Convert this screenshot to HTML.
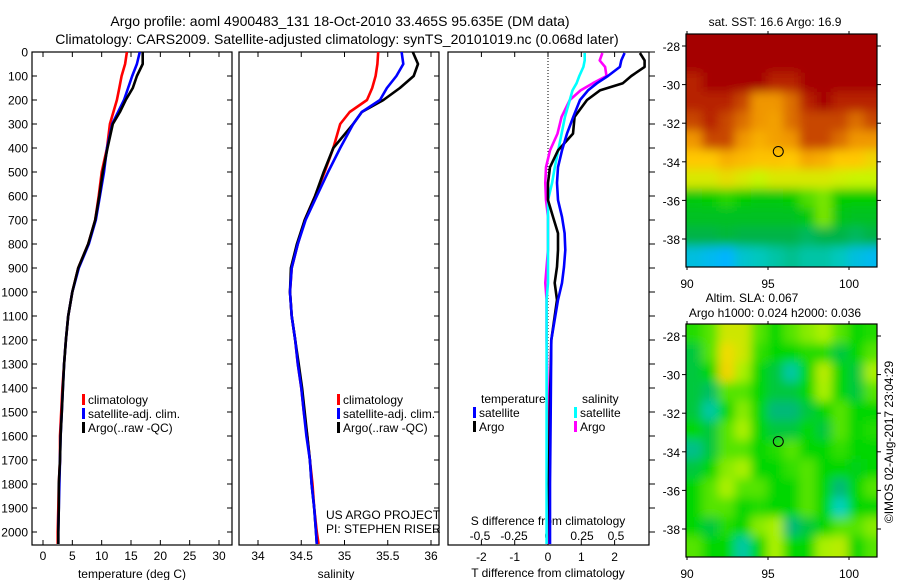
<!DOCTYPE html>
<html><head><meta charset="utf-8"><style>
body{margin:0;background:#fff;}
svg{display:block;font-family:"Liberation Sans",sans-serif;}
</style></head><body>
<svg id="c" width="900" height="580" viewBox="0 0 900 580" xmlns="http://www.w3.org/2000/svg">
<defs>
<clipPath id="cp1"><rect x="32" y="52" width="200" height="493"/></clipPath>
<clipPath id="cp2"><rect x="239" y="52" width="200" height="493"/></clipPath>
<clipPath id="cp3"><rect x="448" y="52" width="201" height="493"/></clipPath>
<clipPath id="cm1"><rect x="686" y="34" width="191" height="233"/></clipPath>
<clipPath id="cm2"><rect x="686" y="324" width="191" height="233"/></clipPath>
<filter id="bl" x="-10%" y="-10%" width="120%" height="120%"><feGaussianBlur stdDeviation="5"/></filter>
</defs>
<g id="root"></g>
</svg>
<script>
// ---- data ----
const depthsT = [0,50,100,150,200,250,300,400,500,600,700,800,900,1000,1100,1200,1300,1400,1500,1600,1700,1800,1900,2000,2050];
const tempClim = [14.3,14.0,13.4,13.0,12.6,12.0,11.4,10.9,10.0,9.5,8.9,7.7,6.0,5.0,4.3,3.9,3.6,3.3,3.1,2.9,2.9,2.7,2.6,2.5,2.5];
const tempSat  = [16.5,16.0,15.2,14.5,13.8,12.8,11.8,10.9,10.4,9.7,9.0,7.8,6.1,5.0,4.3,3.9,3.6,3.4,3.2,3.0,2.9,2.8,2.7,2.6,2.6];
const tempArgo = [17.0,17.0,16.0,15.3,14.1,13.1,11.9,11.0,10.2,9.6,8.9,7.7,6.0,5.0,4.3,3.9,3.6,3.4,3.2,3.0,2.9,2.7,2.7,2.6,2.6];
const depthsS = [0,50,100,150,200,250,300,400,500,600,700,800,900,1000,1100,1200,1300,1400,1500,1600,1700,1800,1900,2000,2050];
const salClim = [35.39,35.38,35.36,35.32,35.26,35.06,34.95,34.87,34.77,34.66,34.54,34.46,34.39,34.37,34.39,34.43,34.46,34.5,34.53,34.57,34.6,34.63,34.65,34.68,34.70];
const salSat  = [35.66,35.68,35.6,35.49,35.41,35.2,35.1,34.95,34.81,34.68,34.55,34.46,34.39,34.37,34.39,34.43,34.46,34.5,34.53,34.56,34.6,34.62,34.65,34.67,34.68];
const salArgo = [35.79,35.85,35.8,35.64,35.45,35.2,35.1,34.87,34.76,34.66,34.54,34.45,34.38,34.37,34.39,34.43,34.47,34.51,34.54,34.57,34.6,34.62,34.65,34.67,34.68];
const depthsD = [4,35,62,100,130,160,200,270,340,410,480,545,617,687,755,825,895,962,1033,1200,1500,1800,2050];
const dTArgo = [2.76,2.9,2.9,2.5,2.25,1.56,1.17,0.8,0.75,0.3,0.06,0.0,0.0,0.15,0.3,0.3,0.27,0.2,0.27,0.1,0.05,0.03,0.05];
const dTSat  = [2.3,2.2,2.16,1.8,1.47,1.2,0.96,0.76,0.57,0.42,0.3,0.27,0.3,0.42,0.5,0.52,0.48,0.42,0.3,0.1,0.08,0.06,0.06];
const dSSat  = [0.27,0.27,0.26,0.23,0.21,0.18,0.16,0.125,0.1,0.075,0.05,0.03,0.0,0.0,0.0,0.0,0.0,0.0,-0.01,-0.01,-0.01,-0.01,-0.01];
const dSArgo = [0.4,0.38,0.42,0.43,0.33,0.24,0.16,0.1,0.07,0.015,-0.015,-0.02,-0.015,0.0,0.0,0.0,-0.01,-0.02,-0.01,-0.01,0.0,0.0,0.0];
const depthTicks = [0,100,200,300,400,500,600,700,800,900,1000,1100,1200,1300,1400,1500,1600,1700,1800,1900,2000];
const tempTicks = [0,5,10,15,20,25,30];
const salTicks = [34,34.5,35,35.5,36];
const dTTicks = [-2,-1,0,1,2];
const dSTicks = [-0.5,-0.25,0,0.25,0.5];
const latTicks = [-28,-30,-32,-34,-36,-38];
const lonTicks = [90,95,100];
const sstGrid = [
[20,20,20,20,20,20,20,20,20,20,20,20],
[19.5,20,20,20,20,20,20,20,20,19.5,20,20],
[19,19.5,20,20,19.5,19,19,19.5,20,19.5,19.5,20],
[19,19,19,18.5,17.5,17.5,18,19,19.5,19,19,19],
[18.5,19,18.5,18,17.5,17.3,18,18.5,18.5,18.5,18,18.5],
[17.5,18.5,18.5,17.5,17,17.3,17.5,18.5,18.5,18,17.5,17.5],
[16.5,16.5,17,16.8,16.6,16.6,16.5,17.2,17,16.5,16.5,16.3],
[16,16,16.2,16,15.8,16,16,16,16,15.9,15.8,15.8],
[15.2,15.3,15.4,15.3,15.2,15.2,15.3,15.5,15.6,15.3,15.3,15.3],
[15,15,15,15,15,15,15,15.2,15.6,15.1,15,15],
[14.7,14.7,14.8,14.7,14.7,14.7,14.7,14.6,14.7,14.7,14.6,14.7],
[14,13.9,13.8,14.1,14.2,14.3,14.4,14.3,14.3,14.2,14,13.9]];
const slaGrid = [
[0.02,0.05,0.15,0.15,0.05,0,0.05,0.08,0.1,0.05,0,0.02],
[-0.05,0.05,0.2,0.15,0.03,0,0,0.02,0.02,-0.05,0,0.05],
[-0.05,0,0.22,0.1,0,-0.05,-0.15,0,0.12,0,-0.05,0.1],
[-0.05,-0.08,0.05,0.05,0,-0.05,-0.05,0,0.1,0,-0.05,0.05],
[-0.05,-0.15,0,0.08,0,-0.1,-0.1,-0.05,0,0.05,0,0],
[0,-0.05,0.05,0.1,0,-0.05,-0.05,0,-0.05,0.05,0,0.02],
[-0.12,-0.05,0.05,0.05,0,0.02,0.05,0,0,0.03,0,0],
[-0.05,0,0.08,0.1,0,0,0.03,0.05,0,0,-0.02,0],
[0,0.05,0.1,0.05,0.05,0,0,0.05,0,-0.1,0,0.05],
[0,0.05,0.05,0,0.02,0,0,0.05,0,-0.18,0,0],
[0,-0.05,0.02,0,0.08,0.1,-0.1,-0.05,0,0.05,0.05,0.08],
[0.05,0,0,-0.15,0,0.1,0,0,0.1,0.12,0,0.05]];
const argoLon = 95.635, argoLat = -33.465;

// ---- helpers ----
const NS="http://www.w3.org/2000/svg";
const root=document.getElementById('root');
function el(tag,attrs,parent,txt){const e=document.createElementNS(NS,tag);for(const k in attrs)e.setAttribute(k,attrs[k]);if(txt!==undefined)e.textContent=txt;(parent||root).appendChild(e);return e;}
const yD = d => 52 + d*0.24;
const xT = t => 43 + t*5.867;
const xS = s => 258 + (s-34)*86.5;
const xDT = v => 548 + v*33.3;
const xDS = v => 548 + v*136;
const mx = lon => 687 + (lon-90)*16.2;
const myA = lat => 46 + (-28-lat)*19.3;
const myB = lat => 336 + (-28-lat)*19.3;

function text(x,y,s,anchor,size,name){const t=el('text',{x:x,y:y,'font-size':size||12,'text-anchor':anchor||'start',fill:'#000'},root,s);

return t;}

function series(xs,ds,xf,color,clip,name,w){
  const pts=xs.map((v,i)=>xf(v).toFixed(1)+','+yD(ds[i]).toFixed(1)).join(' ');
  const p=el('polyline',{points:pts,fill:'none',stroke:color,'stroke-width':w||2.6,'clip-path':'url(#'+clip+')','stroke-linejoin':'round'});
  
  
}

// titles
text(340,26,'Argo profile: aoml 4900483_131 18-Oct-2010 33.465S 95.635E (DM data)','middle',14,'chart-title');
text(337,44,'Climatology: CARS2009. Satellite-adjusted climatology: synTS_20101019.nc (0.068d later)','middle',14,'chart-subtitle');

// panels frames
function frame(x,w,name){const r=el('rect',{x:x,y:52,width:w,height:493,fill:'none',stroke:'#000','stroke-width':1.2});

}
frame(32,200,'temperature-panel');frame(239,200,'salinity-panel');frame(448,201,'difference-panel');

// depth ticks
depthTicks.forEach(d=>{const y=yD(d);
  const lab=text(28,y+4.5,String(d),'end',12,'depth-tick-label');
  el('line',{x1:32,y1:y,x2:37,y2:y,stroke:'#000'});
  el('line',{x1:227,y1:y,x2:232,y2:y,stroke:'#000'});
  el('line',{x1:434,y1:y,x2:439,y2:y,stroke:'#000'});
  el('line',{x1:649,y1:y,x2:655,y2:y,stroke:'#000'});
});
// x ticks
tempTicks.forEach(t=>{const x=xT(t);el('line',{x1:x,y1:545,x2:x,y2:540,stroke:'#000'});el('line',{x1:x,y1:52,x2:x,y2:57,stroke:'#000'});text(x,560,String(t),'middle',12,'temperature-tick-label');});
text(132,578,'temperature (deg C)','middle',12,'temperature-axis-title');
salTicks.forEach(s=>{const x=xS(s);el('line',{x1:x,y1:545,x2:x,y2:540,stroke:'#000'});el('line',{x1:x,y1:52,x2:x,y2:57,stroke:'#000'});text(x,560,String(s),'middle',12,'salinity-tick-label');});
text(336,578,'salinity','middle',12,'salinity-axis-title');
dTTicks.forEach(v=>{const x=xDT(v);el('line',{x1:x,y1:545,x2:x,y2:540,stroke:'#000'});el('line',{x1:x,y1:52,x2:x,y2:57,stroke:'#000'});text(x,561,String(v),'middle',12,'t-diff-tick-label');});
text(548,577,'T difference from climatology','middle',12,'t-diff-axis-title');
dSTicks.forEach(v=>{text(xDS(v),540,String(v),'middle',12,'s-diff-tick-label');});
text(548,525,'S difference from climatology','middle',12,'s-diff-axis-title');
el('line',{x1:548,y1:52,x2:548,y2:545,stroke:'#000','stroke-dasharray':'1,2','stroke-width':1});

// series
series(tempClim,depthsT,xT,'#ff0000','cp1','temp-climatology-line');
series(tempSat,depthsT,xT,'#0000ff','cp1','temp-satellite-line');
series(tempArgo,depthsT,xT,'#000000','cp1','temp-argo-line');
series(salClim,depthsS,xS,'#ff0000','cp2','sal-climatology-line');
series(salArgo,depthsS,xS,'#000000','cp2','sal-argo-line');
series(salSat,depthsS,xS,'#0000ff','cp2','sal-satellite-line');
series(dSArgo,depthsD,xDS,'#ff00ff','cp3','s-diff-argo-line');
series(dSSat,depthsD,xDS,'#00ffff','cp3','s-diff-satellite-line');
series(dTArgo,depthsD,xDT,'#000000','cp3','t-diff-argo-line');
series(dTSat,depthsD,xDT,'#0000ff','cp3','t-diff-satellite-line');

// legends
function legend(x,y,color,label,name){const r=el('rect',{x:x,y:y-10,width:3,height:11,fill:color});


text(x+6,y,label,'start',12,name);}
legend(82,404,'#ff0000','climatology','legend-climatology');
legend(82,418,'#0000ff','satellite-adj. clim.','legend-satellite-adj');
legend(82,432,'#000000','Argo(..raw -QC)','legend-argo');
legend(337,404,'#ff0000','climatology','legend-sal-climatology');
legend(337,418,'#0000ff','satellite-adj. clim.','legend-sal-satellite-adj');
legend(337,432,'#000000','Argo(..raw -QC)','legend-sal-argo');
text(481,403,'temperature','start',12,'legend-temperature-heading');
text(582,403,'salinity','start',12,'legend-salinity-heading');
legend(473,417,'#0000ff','satellite','legend-t-satellite');
legend(473,431,'#000000','Argo','legend-t-argo');
legend(574,417,'#00ffff','satellite','legend-s-satellite');
legend(574,431,'#ff00ff','Argo','legend-s-argo');
text(326,519,'US ARGO PROJECT','start',12,'project-label');
text(326,533,'PI: STEPHEN RISER','start',12,'pi-label');

// colormaps
function interp(stops,v){if(v<=stops[0][0])return stops[0][1];for(let i=1;i<stops.length;i++){if(v<=stops[i][0]){const a=stops[i-1],b=stops[i],f=(v-a[0])/(b[0]-a[0]);return 'rgb('+a[1].map((c,k)=>Math.round(c+(b[1][k]-c)*f)).join(',')+')';}}return 'rgb('+stops[stops.length-1][1].join(',')+')';}
function rgb(a){return 'rgb('+a.join(',')+')';}
const sstStops=[[13.8,[0,180,255]],[14.2,[0,200,190]],[14.7,[0,180,70]],[15.3,[0,205,0]],[15.8,[200,245,0]],[16.5,[255,200,0]],[17.5,[240,150,0]],[18.5,[200,70,0]],[19.5,[165,0,0]],[20,[165,0,0]]];
const slaStops=[[-0.2,[0,215,205]],[-0.1,[0,185,120]],[0,[0,215,0]],[0.1,[170,240,0]],[0.2,[240,220,0]],[0.3,[250,180,0]]];
function heat(grid,stops,top,clip,name){
  const g=el('g',{'clip-path':'url(#'+clip+')'});
  
  
  const inner=el('g',{filter:'url(#bl)'},g);
  const cw=16.2,ch=19.3,x0=686,y0=top;
  grid.forEach((row,r)=>row.forEach((v,c)=>{
    let x=x0+c*cw,y=y0+r*ch,w=cw+0.5,h=ch+0.5;
    if(c===0){x-=20;w+=20;} if(c===row.length-1){w+=30;}
    if(r===0){y-=20;h+=20;} if(r===grid.length-1){h+=30;}
    const s=interp(stops,v);
    const cell=el('rect',{x:x,y:y,width:w,height:h,fill:typeof s==='string'?s:rgb(s)},inner);
    
    
  }));
}
heat(sstGrid,sstStops,34,'cm1','sst-map');
heat(slaGrid,slaStops,324,'cm2','sla-map');

function mapAxes(top,my,name){
  const r=el('rect',{x:686,y:top,width:191,height:233,fill:'none',stroke:'#000','stroke-width':1.2});
  
  
  latTicks.forEach(l=>{const y=my(l);el('line',{x1:686,y1:y,x2:682,y2:y,stroke:'#000'});el('line',{x1:877,y1:y,x2:881,y2:y,stroke:'#000'});text(680,y+5,String(l),'end',12,name+'-lat-label');});
  lonTicks.forEach(l=>{const x=mx(l);el('line',{x1:x,y1:top,x2:x,y2:top-3,stroke:'#000'});el('line',{x1:x,y1:top+233,x2:x,y2:top+236,stroke:'#000'});text(x,top+254,String(l),'middle',12,name+'-lon-label');});
  const c=el('circle',{cx:mx(argoLon),cy:my(argoLat),r:5,fill:'none',stroke:'#000','stroke-width':1});
  
  
}
mapAxes(34,myA,'sst-map');
mapAxes(324,myB,'sla-map');
text(775,26,'sat. SST: 16.6 Argo: 16.9','middle',12,'sst-map-title');
text(752,302,'Altim. SLA: 0.067','middle',12,'sla-map-title');
text(775,317,'Argo h1000: 0.024 h2000: 0.036','middle',12,'sla-map-subtitle');
const cr=text(0,0,'©IMOS 02-Aug-2017 23:04:29','middle',12,'copyright-timestamp');
cr.setAttribute('transform','translate(893,442) rotate(-90)');
</script>
</body></html>
